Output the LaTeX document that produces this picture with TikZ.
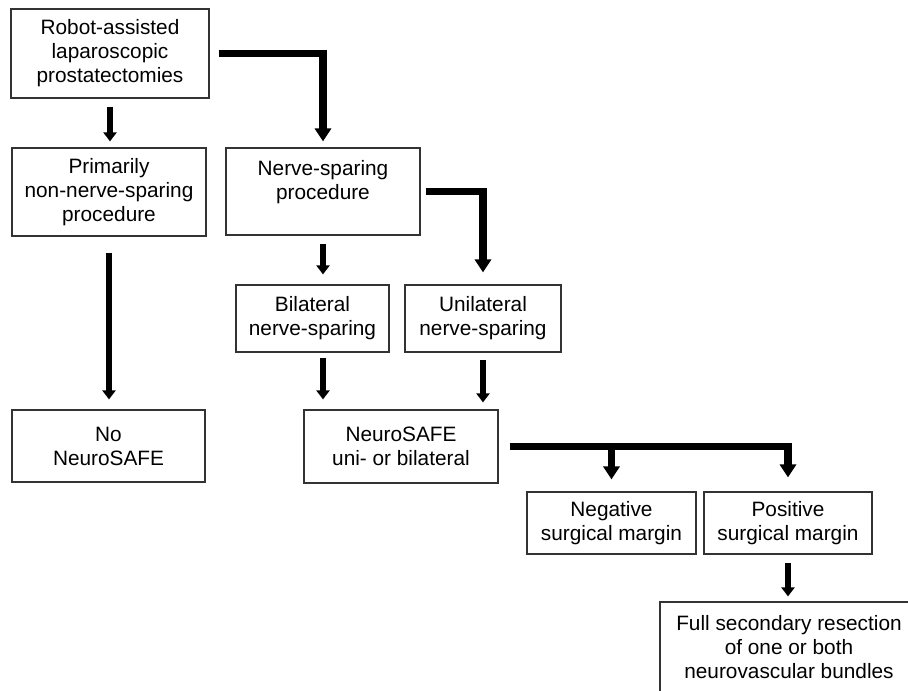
\documentclass[tikz,border=0pt]{standalone}
\usepackage{fontspec}
\setmainfont{Liberation Sans}
\usetikzlibrary{arrows.meta}
\begin{document}
\begin{tikzpicture}[x=0.75pt,y=-0.75pt,
  box/.style={draw=black!80, line width=0.9pt, rectangle, align=center, inner sep=0pt,
    font=\fontsize{15.6pt}{18pt}\selectfont},
  thinarr/.style={line width=4.3pt, -{Triangle[width=9.75pt,length=6.75pt]}},
  thickarr/.style={line width=5.6pt, -{Triangle[width=12pt,length=9.75pt]}}]
\useasboundingbox (0,0) rectangle (908,690);
\fill[white] (0,0) rectangle (908,690);
\clip (0,0) rectangle (908,690);

\node[box, minimum width=198*0.75pt, minimum height=89*0.75pt] (R) at (110,53.5) {Robot-assisted\\laparoscopic\\prostatectomies};
\node[box, minimum width=194*0.75pt, minimum height=88*0.75pt] (P) at (109,192) {Primarily\\non-nerve-sparing\\procedure};
\node[box, minimum width=194*0.75pt, minimum height=87*0.75pt] (N) at (323,191.5) {Nerve-sparing\\procedure\\~};
\node[box, minimum width=153*0.75pt, minimum height=67*0.75pt] (B) at (312.5,318.5) {Bilateral\\nerve-sparing};
\node[box, minimum width=156*0.75pt, minimum height=67*0.75pt] (U) at (483,318.5) {Unilateral\\nerve-sparing};
\node[box, minimum width=193*0.75pt, minimum height=72*0.75pt] (No) at (108.5,446) {No\\NeuroSAFE};
\node[box, minimum width=194*0.75pt, minimum height=73*0.75pt] (NS) at (401,446.5) {NeuroSAFE\\uni- or bilateral};
\node[box, minimum width=169*0.75pt, minimum height=62*0.75pt] (Neg) at (611.5,523) {Negative\\surgical margin};
\node[box, minimum width=168*0.75pt, minimum height=62*0.75pt] (Pos) at (788,523) {Positive\\surgical margin};
\node[box, minimum width=258*0.75pt, minimum height=90*0.75pt] (Full) at (789,647) {Full secondary resection\\of one or both\\neurovascular bundles};

\draw[thinarr, shorten <=6pt, shorten >=4.5pt] (R.south) -- (R.south |- P.north);
\draw[thickarr, shorten <=6.75pt, shorten >=4.5pt] (R.east) -| (N.north);
\draw[thinarr, shorten <=12pt, shorten >=7.5pt] (P.south) -- (P.south |- No.north);
\draw[thinarr, shorten <=6pt, shorten >=7.5pt] (N.south) -- (N.south |- B.north);
\draw[thickarr, shorten <=3.75pt, shorten >=9pt] (N.east) -| (U.north);
\draw[thinarr, shorten <=3.75pt, shorten >=7.5pt] (N.south |- B.south) -- (N.south |- NS.north);
\draw[thinarr, shorten <=5.25pt, shorten >=5.25pt] (U.south) -- (U.south |- NS.north);
\draw[thickarr, shorten <=8.25pt, shorten >=10.5pt] (NS.east) -| (Pos.north);
\draw[thickarr, shorten >=9pt] (Neg.north |- NS.east) -- (Neg.north);
\draw[thinarr, shorten <=6pt, shorten >=3.75pt] (Pos.south) -- (Pos.south |- Full.north);
\end{tikzpicture}
\end{document}
